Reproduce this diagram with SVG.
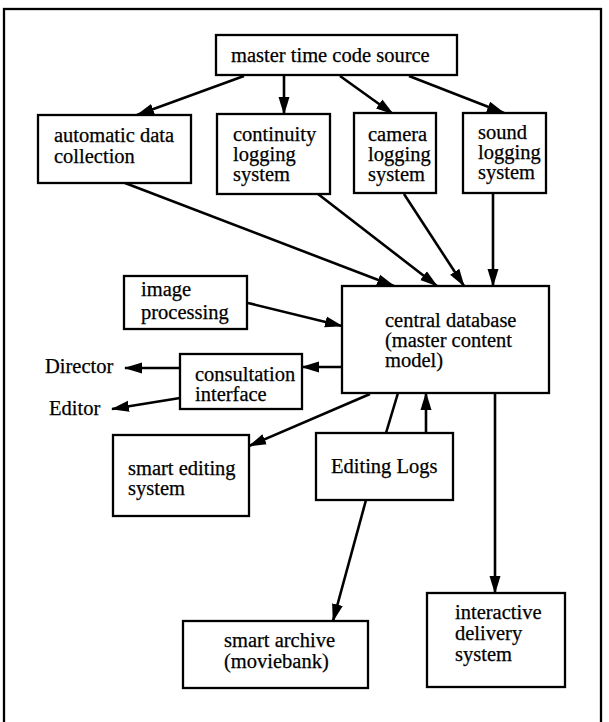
<svg xmlns="http://www.w3.org/2000/svg" width="609" height="722" viewBox="0 0 609 722">
<defs>
<style>
.box{fill:#fff;stroke:#000;stroke-width:2.3}
.t{font-family:"Liberation Serif","Times New Roman",serif;font-size:20.5px;fill:#000;stroke:#000;stroke-width:0.25}
.c{fill:none;stroke:#000;stroke-width:2.6}
</style>
<marker id="ah" markerWidth="18" markerHeight="12" refX="17" refY="6" orient="auto" markerUnits="userSpaceOnUse">
<path d="M0,0.5 L18,6 L0,11.5 Z" fill="#000"/>
</marker>
</defs>
<rect width="609" height="722" fill="#fff"/>
<rect x="4" y="9" width="597" height="730" fill="none" stroke="#000" stroke-width="2.3"/>
<g id="connectors">
<line class="c" x1="244" y1="76" x2="137" y2="115" marker-end="url(#ah)"/>
<line class="c" x1="284" y1="76" x2="284" y2="114" marker-end="url(#ah)"/>
<line class="c" x1="340" y1="76" x2="393" y2="114" marker-end="url(#ah)"/>
<line class="c" x1="409" y1="76" x2="504" y2="113" marker-end="url(#ah)"/>
<line class="c" x1="125" y1="183" x2="394" y2="286" marker-end="url(#ah)"/>
<line class="c" x1="318" y1="194" x2="437" y2="286" marker-end="url(#ah)"/>
<line class="c" x1="404" y1="194" x2="464" y2="286" marker-end="url(#ah)"/>
<line class="c" x1="493" y1="193" x2="493" y2="286" marker-end="url(#ah)"/>
<line class="c" x1="248" y1="303" x2="342" y2="326" marker-end="url(#ah)"/>
<line class="c" x1="342" y1="367" x2="302" y2="367" marker-end="url(#ah)"/>
<line class="c" x1="180" y1="368" x2="125" y2="368" marker-end="url(#ah)"/>
<line class="c" x1="180" y1="398" x2="112" y2="409" marker-end="url(#ah)"/>
<line class="c" x1="370" y1="394" x2="249" y2="446" marker-end="url(#ah)"/>
<line class="c" x1="398" y1="393" x2="386" y2="433"/>
<line class="c" x1="366" y1="500" x2="333" y2="621" marker-end="url(#ah)"/>
<line class="c" x1="426" y1="433" x2="426" y2="393" marker-end="url(#ah)"/>
<line class="c" x1="495" y1="393" x2="495" y2="593" marker-end="url(#ah)"/>
</g>
<g id="master"><rect class="box" x="216" y="35" width="241" height="40"/><text class="t" x="231" y="62">master time code source</text></g>
<g id="automatic"><rect class="box" x="38" y="115" width="153" height="68"/><text class="t" x="54" y="142">automatic data</text><text class="t" x="54" y="163">collection</text></g>
<g id="continuity"><rect class="box" x="217" y="114" width="113" height="80"/><text class="t" x="233" y="141">continuity</text><text class="t" x="233" y="161">logging</text><text class="t" x="233" y="181">system</text></g>
<g id="camera"><rect class="box" x="354" y="113" width="82" height="80"/><text class="t" x="368" y="141">camera</text><text class="t" x="368" y="161">logging</text><text class="t" x="368" y="181">system</text></g>
<g id="sound"><rect class="box" x="463" y="113" width="83" height="80"/><text class="t" x="478" y="139">sound</text><text class="t" x="478" y="159">logging</text><text class="t" x="478" y="179">system</text></g>
<g id="image"><rect class="box" x="124" y="276" width="123" height="53"/><text class="t" x="141" y="296">image</text><text class="t" x="141" y="319">processing</text></g>
<g id="central"><rect class="box" x="342" y="286" width="207" height="107"/><text class="t" x="385" y="327">central database</text><text class="t" x="385" y="347">(master content</text><text class="t" x="385" y="367">model)</text></g>
<g id="consultation"><rect class="box" x="180" y="354" width="122" height="55"/><text class="t" x="195" y="381">consultation</text><text class="t" x="195" y="401">interface</text></g>
<g id="director"><text class="t" x="45" y="373">Director</text></g>
<g id="editor"><text class="t" x="49" y="415">Editor</text></g>
<g id="smartediting"><rect class="box" x="113" y="435" width="136" height="81"/><text class="t" x="128" y="475">smart editing</text><text class="t" x="128" y="495">system</text></g>
<g id="editinglogs"><rect class="box" x="316" y="433" width="137" height="67"/><text class="t" x="331" y="473">Editing Logs</text></g>
<g id="archive"><rect class="box" x="183" y="621" width="185" height="67"/><text class="t" x="224" y="647">smart archive</text><text class="t" x="224" y="668">(moviebank)</text></g>
<g id="delivery"><rect class="box" x="427" y="593" width="138" height="94"/><text class="t" x="455" y="619">interactive</text><text class="t" x="455" y="640">delivery</text><text class="t" x="455" y="661">system</text></g>
</svg>
